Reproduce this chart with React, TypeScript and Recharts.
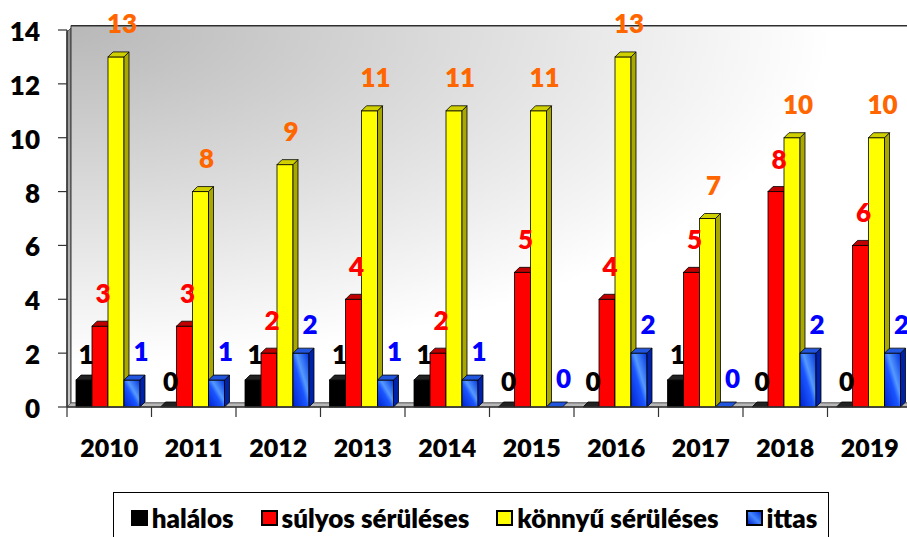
import React from 'react';
import { BarChart, Bar, XAxis, YAxis, CartesianGrid, LabelList, ReferenceArea } from 'recharts';

const categories = ['2010', '2011', '2012', '2013', '2014', '2015', '2016', '2017', '2018', '2019'];
const halalos = [1, 0, 1, 1, 1, 0, 0, 1, 0, 0];
const sulyos = [3, 3, 2, 4, 2, 5, 4, 5, 8, 6];
const konnyu = [13, 8, 9, 11, 11, 11, 13, 7, 10, 10];
const ittas = [1, 1, 2, 1, 1, 0, 2, 0, 2, 2];
const yTicks = [0, 2, 4, 6, 8, 10, 12, 14];

const seriesDefs = [
  { key: 'halalos', name: 'halálos', front: '#000000', side: '#111111', top: '#222222', label: '#000000', dx: 2, off: 16 },
  { key: 'sulyos', name: 'súlyos sérüléses', front: '#ff0000', side: '#a00000', top: '#c00000', label: '#ff0000', dx: 3, off: 23 },
  { key: 'konnyu', name: 'könnyű sérüléses', front: '#ffff00', side: '#a8a800', top: '#d0d000', label: '#ff6600', dx: 6, off: 24 },
  { key: 'ittas', name: 'ittas', front: 'url(#blueGrad)', side: '#0022aa', top: '#2255dd', label: '#0000ff', dx: 9, off: 19 },
];

const data = categories.map((c, i) => ({
  year: c,
  halalos: halalos[i],
  sulyos: sulyos[i],
  konnyu: konnyu[i],
  ittas: ittas[i],
}));

const FONT = 'Lato, "Open Sans", sans-serif';
const D = 5;
const SHIFT = -2;

const make3D = (s: any) => (props: any) => {
  const { x, y, width, height } = props;
  if (x == null || y == null) return null;
  const X = x + SHIFT;
  const w = width;
  const h = Math.max(0, height || 0);
  const side = `${X + w},${y} ${X + w + D},${y - D} ${X + w + D},${y + h - D} ${X + w},${y + h}`;
  const top = `${X},${y} ${X + D},${y - D} ${X + w + D},${y - D} ${X + w},${y}`;
  return (
    <g>
      {h > 0 && <rect x={X} y={y} width={w} height={h} fill={s.front} stroke="#000" strokeWidth={0.8} />}
      {h > 0 && <polygon points={side} fill={s.side} stroke="#000" strokeWidth={0.8} />}
      <polygon points={top} fill={s.top} stroke="#000" strokeWidth={0.8} />
    </g>
  );
};

const makeLabel = (s: any) => (props: any) => {
  const { x, y, width, value } = props;
  if (x == null) return null;
  return (
    <text
      x={x + SHIFT + width / 2 + s.dx}
      y={y - s.off}
      textAnchor="middle"
      fill={s.label}
      fontFamily={FONT}
      fontWeight={800}
      fontSize={26}
    >
      {value}
    </text>
  );
};

const Walls = (props: any) => {
  const { x, y, width, height } = props;
  const d = 4;
  return (
    <g>
      <polygon
        points={`${x},${y + 2} ${x + d},${y - d + 2} ${x + d},${y + height - d} ${x},${y + height}`}
        fill="url(#wallGrad)"
        stroke="#555"
        strokeWidth={1}
      />
      <rect x={x + d} y={y - d} width={width} height={height} fill="url(#bgGrad)" stroke="#333" strokeWidth={1} />
      <polygon
        points={`${x},${y + height} ${x + d},${y + height - d} ${x + width + d},${y + height - d} ${x + width},${y + height}`}
        fill="#b8b8b8"
        stroke="#666"
        strokeWidth={0.8}
      />
    </g>
  );
};

const gridLine = (props: any) => {
  const { x1, y1, x2, y2, index } = props;
  if (index === 0) return <g key={`g${index}`} />;
  return <line key={`g${index}`} x1={x1 + 4} y1={y1 - 4} x2={x2 + 4} y2={y2 - 4} stroke="#2a2a2a" strokeWidth={2} />;
};

const BAND = 845 / categories.length;

const XTick = (props: any) => {
  const { x, payload } = props;
  return (
    <g>
      <line x1={x - BAND / 2} y1={407} x2={x - BAND / 2} y2={417} stroke="#333" strokeWidth={1.2} />
      <text x={x} y={457} textAnchor="middle" fill="#000" fontFamily={FONT} fontWeight={800} fontSize={25}>
        {payload.value}
      </text>
    </g>
  );
};

const YTick = (props: any) => {
  const { x, y, payload } = props;
  return (
    <text x={x} y={y + 11} textAnchor="end" fill="#000" fontFamily={FONT} fontWeight={800} fontSize={26}>
      {payload.value}
    </text>
  );
};

const legendSwatch = (s: any) => ({
  width: 13,
  height: 12,
  border: '2px solid #000',
  background: s.key === 'ittas' ? 'linear-gradient(45deg, #0022cc, #4488ff 50%, #0033dd)' : s.front,
  marginRight: 4,
  boxSizing: 'content-box' as const,
});

export default function App() {
  return (
    <div style={{ position: 'absolute', left: 0, top: 0, width: 907, height: 537, overflow: 'hidden', background: '#fff' }}>
      <BarChart
        width={920}
        height={537}
        data={data}
        margin={{ top: 30, right: 8, bottom: 100, left: 0 }}
        barCategoryGap={11}
        barGap={0}
      >
        <defs>
          <radialGradient id="bgGrad" cx="0" cy="0" r="0.9" fx="0" fy="0">
            <stop offset="0%" stopColor="#b8b8b8" />
            <stop offset="100%" stopColor="#ffffff" />
          </radialGradient>
          <linearGradient id="wallGrad" x1="0" y1="0" x2="0" y2="1">
            <stop offset="0%" stopColor="#8c8c8c" />
            <stop offset="100%" stopColor="#c8c8c8" />
          </linearGradient>
          <linearGradient id="blueGrad" x1="0" y1="1" x2="1" y2="0">
            <stop offset="0%" stopColor="#0022cc" />
            <stop offset="45%" stopColor="#1a55ff" />
            <stop offset="60%" stopColor="#5599ff" />
            <stop offset="100%" stopColor="#0033dd" />
          </linearGradient>
        </defs>
        <ReferenceArea y1={0} y2={14} shape={Walls} ifOverflow="visible" />
        <CartesianGrid vertical={false} horizontal={gridLine} />
        <XAxis
          dataKey="year"
          height={30}
          tickLine={false}
          axisLine={{ stroke: '#333', strokeWidth: 1.5 }}
          tick={XTick}
          interval={0}
        />
        <YAxis
          width={67}
          domain={[0, 14]}
          ticks={yTicks}
          tickSize={9}
          tickMargin={18}
          tickLine={{ stroke: '#333', strokeWidth: 1.2 }}
          axisLine={{ stroke: '#333', strokeWidth: 1.5 }}
          tick={YTick}
        />
        {seriesDefs.map((s) => (
          <Bar key={s.key} dataKey={s.key} name={s.name} fill={s.side} isAnimationActive={false} shape={make3D(s)}>
            <LabelList dataKey={s.key} content={makeLabel(s)} />
          </Bar>
        ))}
      </BarChart>
      <div
        style={{
          position: 'absolute',
          left: 113,
          top: 492,
          width: 716,
          height: 60,
          border: '1.5px solid #000',
          background: '#fff',
          display: 'flex',
          justifyContent: 'center',
          alignItems: 'flex-start',
          paddingTop: 11,
          paddingLeft: 6,
          boxSizing: 'border-box',
          fontFamily: FONT,
          fontWeight: 800,
          fontSize: 26,
          color: '#000',
        }}
      >
        {seriesDefs.map((s, i) => (
          <div key={s.key} style={{ display: 'flex', alignItems: 'center', marginLeft: i === 0 ? 0 : 27, lineHeight: '28px' }}>
            <div style={legendSwatch(s)} />
            <span>{s.name}</span>
          </div>
        ))}
      </div>
    </div>
  );
}
